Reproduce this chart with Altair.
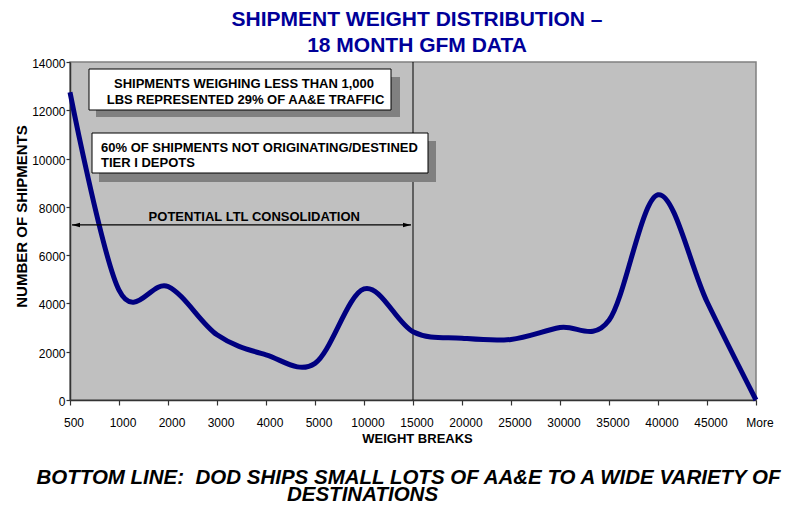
import altair as alt
import pandas as pd

FONT = "Liberation Sans"

categories = ["500", "1000", "2000", "3000", "4000", "5000", "10000", "15000",
              "20000", "25000", "30000", "35000", "40000", "45000", "More"]
shipments = [12750, 4550, 4700, 2700, 1870, 1520, 4600, 2830,
             2560, 2510, 3000, 3300, 8500, 4070, 0]
y_ticks = [0, 2000, 4000, 6000, 8000, 10000, 12000, 14000]

title_lines = ["SHIPMENT WEIGHT DISTRIBUTION \u2013", "18 MONTH GFM DATA"]
box1_lines = ["SHIPMENTS WEIGHING LESS THAN 1,000", "LBS REPRESENTED 29% OF AA&E TRAFFIC"]
box2_lines = ["60% OF SHIPMENTS NOT ORIGINATING/DESTINED", "TIER I DEPOTS"]
arrow_label = "POTENTIAL LTL CONSOLIDATION"
arrow_start, arrow_end, arrow_level = "500", "15000", 7250
divider_at = "15000"
bottom_lines = ["BOTTOM LINE:\u00a0\u00a0DOD SHIPS SMALL LOTS OF AA&E TO A WIDE VARIETY OF",
                "DESTINATIONS"]

df = pd.DataFrame({"weight": categories, "count": shipments})
one = pd.DataFrame({"k": [0]})

xscale = alt.Scale(type="point", padding=0, domain=categories)
yscale = alt.Scale(domain=[0, 14000], nice=False)

line = alt.Chart(df).mark_line(color="#000080", strokeWidth=5, interpolate="cardinal").encode(
    x=alt.X("weight:N", sort=categories, scale=xscale, title=None),
    y=alt.Y("count:Q", scale=yscale, title=None,
            axis=alt.Axis(values=y_ticks, format="d")),
)

divider = alt.Chart(pd.DataFrame({"weight": [divider_at]})).mark_rule(
    color="black", strokeWidth=1).encode(
    x=alt.X("weight:N", sort=categories, scale=xscale, title=None))


def rect(x1, x2, y1, y2, fill, stroke=None):
    kw = dict(fill=fill)
    if stroke:
        kw.update(stroke=stroke, strokeWidth=1)
    return alt.Chart(one).mark_rect(**kw).encode(
        x=alt.value(x1), x2=alt.value(x2), y=alt.value(y1), y2=alt.value(y2))


def label(text, x, y, size, align="center", weight="bold", style="normal",
          color="black", angle=0, baseline="alphabetic"):
    return alt.Chart(one).mark_text(
        text=text, font=FONT, fontSize=size, fontWeight=weight, fontStyle=style,
        align=align, baseline=baseline, color=color, angle=angle).encode(
        x=alt.value(x), y=alt.value(y))


arrow_df = pd.DataFrame({"start": [arrow_start], "end": [arrow_end], "level": [arrow_level]})
arrow_line = alt.Chart(arrow_df).mark_rule(color="black", strokeWidth=1.2, xOffset=2, x2Offset=-2).encode(
    x=alt.X("start:N", sort=categories, scale=xscale, title=None),
    x2="end:N",
    y=alt.Y("level:Q", scale=yscale, title=None),
)
head_l = alt.Chart(arrow_df).mark_point(
    shape="M-1,0L1,-0.55L1,0.55Z", filled=True, color="black", opacity=1, size=64, xOffset=6).encode(
    x=alt.X("start:N", sort=categories, scale=xscale, title=None),
    y=alt.Y("level:Q", scale=yscale, title=None))
head_r = alt.Chart(arrow_df).mark_point(
    shape="M1,0L-1,-0.55L-1,0.55Z", filled=True, color="black", opacity=1, size=64, xOffset=-6).encode(
    x=alt.X("end:N", sort=categories, scale=xscale, title=None),
    y=alt.Y("level:Q", scale=yscale, title=None))

layers = [
    divider,
    line,
    rect(26, 330, 15, 55, "#808080"),
    rect(19, 321, 7, 48, "white", "black"),
    rect(29, 366, 79, 120, "#808080"),
    rect(22, 358, 71, 111, "white", "black"),
    label(box1_lines[0], 174, 26.3, 13),
    label(box1_lines[1], 175.5, 42.3, 13),
    label(box2_lines[0], 31, 90.3, 13, align="left"),
    label(box2_lines[1], 31, 104.7, 13, align="left"),
    arrow_line, head_l, head_r,
    label(arrow_label, 184.3, 159, 13),
    label(title_lines[0], 347, -36, 21, color="#000099"),
    label(title_lines[1], 347, -10.3, 21, color="#000099"),
    label("NUMBER OF SHIPMENTS", -48.5, 154.5, 15, angle=270, baseline="middle"),
    label("WEIGHT BREAKS", 347.5, 381, 13),
    label(bottom_lines[0], 338.5, 421.5, 20.5, style="italic"),
    label(bottom_lines[1], 292.5, 439, 20.5, style="italic"),
]

chart = alt.layer(*layers).properties(
    width=686, height=338,
    padding={"left": 62, "top": 54, "right": 45, "bottom": 103},
    autosize=alt.AutoSizeParams(type="none"),
    background="white",
).configure_view(
    fill="#C0C0C0", stroke="#808080", strokeWidth=1.5
).configure_axis(
    grid=False, domainColor="#333333", tickColor="#333333", domainWidth=1.5, tickWidth=1.2,
    labelFont=FONT, labelFontSize=12, labelColor="black",
).configure_axisX(
    labelAngle=0, tickSize=5, labelPadding=12, labelOffset=3.5,
).configure_axisY(
    tickSize=4, labelPadding=1, labelOffset=1.5,
)

chart.save("out.html", embed_options={"renderer": "svg", "actions": False})
